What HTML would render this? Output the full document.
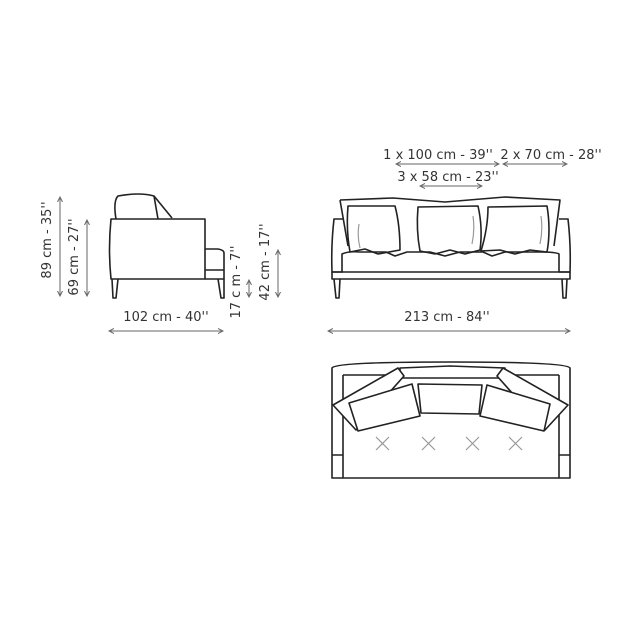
<!DOCTYPE html>
<html><head><meta charset="utf-8"><style>
html,body{margin:0;padding:0;background:#fff;}
svg{display:block;}
text{font-family:"DejaVu Sans","Liberation Sans",sans-serif;fill:#333;font-size:13px;}
</style></head><body>
<svg width="640" height="640" viewBox="0 0 640 640" xmlns="http://www.w3.org/2000/svg">
<defs>
<marker id="a" markerWidth="6" markerHeight="6" refX="5" refY="3" orient="auto-start-reverse"><path d="M0,0.5 L5,3 L0,5.5" fill="none" stroke="#666" stroke-width="1"/></marker>
</defs>
<g stroke="#666" stroke-width="1" fill="none" marker-start="url(#a)" marker-end="url(#a)">
<line x1="60" y1="197" x2="60" y2="296"/>
<line x1="87" y1="220" x2="87" y2="296"/>
<line x1="249" y1="280" x2="249" y2="297"/>
<line x1="278" y1="250" x2="278" y2="297"/>
<line x1="109" y1="331" x2="223" y2="331"/>
<line x1="396" y1="164" x2="499" y2="164"/>
<line x1="503" y1="164" x2="567" y2="164"/>
<line x1="420" y1="186" x2="482" y2="186"/>
<line x1="328" y1="331" x2="570" y2="331"/>
</g>
<text x="166" y="321" text-anchor="middle">102 cm - 40''</text>
<text x="447" y="321" text-anchor="middle">213 cm - 84''</text>
<text x="438" y="159" text-anchor="middle">1 x 100 cm - 39''</text>
<text x="551" y="159" text-anchor="middle">2 x 70 cm - 28''</text>
<text x="448" y="181" text-anchor="middle">3 x 58 cm - 23''</text>
<text transform="translate(51,240) rotate(-90)" text-anchor="middle">89 cm - 35''</text>
<text transform="translate(78,257) rotate(-90)" text-anchor="middle">69 cm - 27''</text>
<text transform="translate(240,282) rotate(-90)" text-anchor="middle">17 c m - 7''</text>
<text transform="translate(269,262) rotate(-90)" text-anchor="middle">42 cm - 17''</text>

<g stroke="#222" stroke-width="1.6" fill="none" stroke-linejoin="round">
<!-- side view -->
<path d="M116,219 Q113,201 118,196 Q140,192 154,196 L158,219"/>
<path d="M154,196 L172,218"/>
<path d="M111,219 L205,219 L205,279 L111,279 Q108,249 111,219 Z"/>
<path d="M205,249 L218,249 Q224,250 224,253 L224,279 L205,279"/>
<line x1="205" y1="270" x2="224" y2="270"/>
<path d="M112,279 L113,298 L116,298 L118,279"/>
<path d="M218,279 L221,298 L224,298 L224,279"/>
<!-- front view -->
<path d="M343,219 L334,219 Q331,245 332,272 L343,272"/>
<path d="M559,219 L568,219 Q571,245 570,272 L559,272"/>
<rect x="332" y="272" width="238" height="7"/>
<path d="M334,279 L336,298 L339,298 L340,279"/>
<path d="M562,279 L563,298 L566,298 L567,279"/>
<path d="M342,272 L342,254 Q348,251 360,252 L386,252 L395,256 L407,252 L430,252 L445,256 L460,252 L483,252 L492,256 L505,252 L540,252 Q556,252 559,254 L559,272"/>
<path d="M340,200 L393,198 L445,202 L505,197 L560,200 L554,246 M340,200 L348,246"/>
<path d="M348,206 L395,206 Q400,225 400,250 L378,254 L365,249 L350,252 Q346,230 348,206 Z"/>
<path d="M418,207 L478,206 Q483,228 480,250 L465,254 L450,250 L435,254 L420,251 Q416,230 418,207 Z"/>
<path d="M488,207 L547,206 Q551,230 547,252 L530,250 L515,254 L500,250 L481,251 Q488,228 488,207 Z"/>
<!-- top view -->
<path d="M332,478 L332,368 Q335,362 451,362 Q567,362 570,368 L570,478 Z"/>
<path d="M343,478 L343,375 M559,478 L559,375 M343,375 L392,375 M510,375 L559,375"/>
<path d="M332,455 L343,455 M559,455 L570,455"/>
<path d="M400,368 L450,366 L505,368 L505,378 L400,378 Z" fill="#fff"/>
<path d="M333,405 L398,368 L404,376 L356,430 Z" fill="#fff"/>
<path d="M568,405 L503,368 L497,376 L545,430 Z" fill="#fff"/>
<path d="M349,403 L412,384 L420,416 L358,431 Z" fill="#fff"/>
<path d="M418,384 L482,385 L479,414 L421,413 Z" fill="#fff"/>
<path d="M487,385 L550,404 L544,431 L480,416 Z" fill="#fff"/>
</g>
<g stroke="#999" stroke-width="1.2" fill="none">
<path d="M376,437 L389,450 M389,437 L376,450"/>
<path d="M422,437 L435,450 M435,437 L422,450"/>
<path d="M466,437 L479,450 M479,437 L466,450"/>
<path d="M509,437 L522,450 M522,437 L509,450"/>
<path d="M359,224 Q357,236 360,248 M473,216 Q475,230 472,244 M541,216 Q543,230 540,244"/>
</g>
</svg>
</body></html>
